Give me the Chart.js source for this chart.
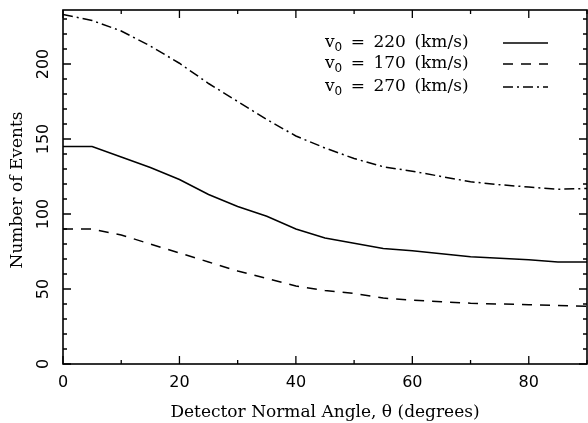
<!DOCTYPE html>
<html lang="en">
<head>
    <meta charset="UTF-8">
    <title>Number of Events vs Detector Normal Angle</title>
    <script src="https://cdn.jsdelivr.net/npm/chart.js"></script>
    <style>
        html, body { margin: 0; padding: 0; background: #fff; }
        canvas { display: block; }
    </style>
</head>
<body>
    <canvas id="eventsChart" width="588" height="423"></canvas>
    <script>
        // angle grid (degrees)
        const angles = [0, 5, 10, 15, 20, 25, 30, 35, 40, 45, 50, 55, 60, 65, 70, 75, 80, 85, 90];
        // number of events for each v0
        const events220 = [145, 145, 138, 131, 123, 113, 105, 98.5, 90, 84, 80.5, 77, 75.5, 73.5, 71.5, 70.5, 69.5, 68, 68];
        const events170 = [90, 90, 86, 80, 74, 68, 62, 57, 52, 49, 47, 44, 42.5, 41.5, 40.5, 40, 39.5, 39, 38.5];
        const events270 = [233, 229, 222, 212, 200.5, 187, 175, 163, 152, 144, 137, 131.5, 128.5, 125, 121.5, 119.5, 118, 116.5, 117];

        const seriesLabels = ['220', '170', '270'];
        const xTickLabels = [0, 20, 40, 60, 80];
        const yTickLabels = [0, 50, 100, 150, 200];

        const serif = '"DejaVu Serif", serif';
        const sans = '"DejaVu Sans", sans-serif';

        const toPoints = (ys) => angles.map((a, i) => ({ x: a, y: ys[i] }));

        const dashes = [[], [10, 8], [10, 4, 2, 4]];

        // frame, inward ticks, rotated y labels and legend
        const framePlugin = {
            id: 'frame',
            afterDraw(chart) {
                const ctx = chart.ctx;
                const { left, right, top, bottom } = chart.chartArea;
                const xs = chart.scales.x;
                const ys = chart.scales.y;
                ctx.save();
                ctx.strokeStyle = '#000';
                ctx.lineWidth = 1.6;
                ctx.strokeRect(left, top, right - left, bottom - top);

                ctx.lineWidth = 1.3;
                ctx.beginPath();
                for (let v = 0; v <= 90; v += 10) {
                    const px = xs.getPixelForValue(v);
                    const len = v % 20 === 0 ? 8 : 4;
                    ctx.moveTo(px, bottom); ctx.lineTo(px, bottom - len);
                    ctx.moveTo(px, top); ctx.lineTo(px, top + len);
                }
                for (let v = 0; v <= 230; v += 10) {
                    const py = ys.getPixelForValue(v);
                    const len = v % 50 === 0 ? 8 : 4;
                    ctx.moveTo(left, py); ctx.lineTo(left + len, py);
                    ctx.moveTo(right, py); ctx.lineTo(right - len, py);
                }
                ctx.stroke();

                // y tick labels, rotated
                ctx.fillStyle = '#000';
                ctx.font = '16px ' + sans;
                ctx.textAlign = 'center';
                ctx.textBaseline = 'middle';
                yTickLabels.forEach(v => {
                    const py = ys.getPixelForValue(v);
                    ctx.save();
                    ctx.translate(44, py);
                    ctx.rotate(-Math.PI / 2);
                    ctx.fillText(String(v), 0, 0);
                    ctx.restore();
                });

                // y title
                ctx.save();
                ctx.font = '17px ' + serif;
                ctx.translate(18, (top + bottom) / 2 + 3);
                ctx.rotate(-Math.PI / 2);
                ctx.fillText('Number of Events', 0, 0);
                ctx.restore();

                // legend
                const rows = [43, 64, 87];
                ctx.textAlign = 'left';
                ctx.textBaseline = 'middle';
                seriesLabels.forEach((lab, i) => {
                    let x = 325;
                    const y = rows[i];
                    ctx.font = '17px ' + serif;
                    ctx.fillText('v', x, y);
                    x += ctx.measureText('v').width;
                    ctx.font = '12px ' + sans;
                    ctx.fillText('0', x, y + 5);
                    x += ctx.measureText('0').width;
                    ctx.font = '17px ' + serif;
                    ctx.fillText('\u2002=\u2002' + lab + '\u2002(km/s)', x, y);

                    ctx.lineWidth = 1.5;
                    ctx.setLineDash(dashes[i]);
                    ctx.beginPath();
                    ctx.moveTo(503, y);
                    ctx.lineTo(548, y);
                    ctx.stroke();
                    ctx.setLineDash([]);
                });
                ctx.restore();
            }
        };

        const ctx = document.getElementById('eventsChart').getContext('2d');
        new Chart(ctx, {
            type: 'line',
            data: {
                datasets: [events220, events170, events270].map((ys, i) => ({
                    label: seriesLabels[i],
                    data: toPoints(ys),
                    borderColor: '#000',
                    borderWidth: 1.5,
                    borderDash: dashes[i],
                    pointRadius: 0,
                    tension: 0,
                    fill: false
                }))
            },
            options: {
                responsive: false,
                animation: false,
                layout: { padding: { left: 0, right: 1, top: 10, bottom: 0 } },
                plugins: {
                    legend: { display: false },
                    tooltip: { enabled: false }
                },
                scales: {
                    x: {
                        type: 'linear',
                        min: 0,
                        max: 90,
                        grid: { display: false, drawTicks: false },
                        border: { display: false },
                        afterBuildTicks: (scale) => {
                            scale.ticks = xTickLabels.map(v => ({ value: v }));
                        },
                        afterFit: (scale) => { scale.height = 59; },
                        ticks: {
                            color: '#000',
                            padding: 9,
                            maxRotation: 0,
                            font: { family: sans, size: 16 }
                        },
                        title: {
                            display: true,
                            text: 'Detector Normal Angle, \u03b8 (degrees)',
                            color: '#000',
                            font: { family: serif, size: 17 },
                            padding: { top: 0, bottom: 0 }
                        }
                    },
                    y: {
                        min: 0,
                        max: 236,
                        grid: { display: false, drawTicks: false },
                        border: { display: false },
                        ticks: { display: false },
                        afterFit: (scale) => { scale.width = 63; }
                    }
                }
            },
            plugins: [framePlugin]
        });
    </script>
</body>
</html>
